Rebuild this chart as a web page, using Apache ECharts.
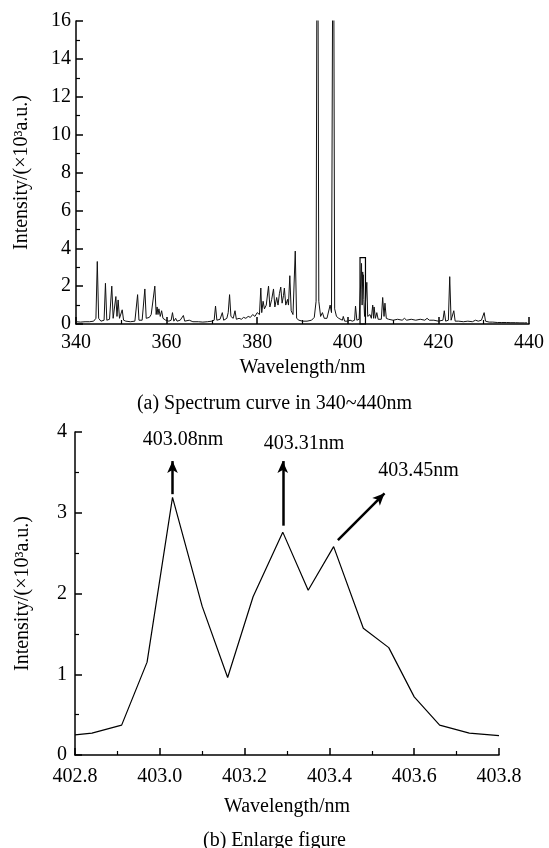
<!DOCTYPE html>
<html>
<head>
<meta charset="utf-8">
<script src="https://cdn.jsdelivr.net/npm/echarts@6/dist/echarts.min.js"></script>
<style>
  html, body { margin: 0; padding: 0; background: #fff; }
  #chart { width: 549px; height: 848px; }
</style>
</head>
<body>
<div id="chart"></div>
<script>
// (a) 全谱 340~440nm，[波长, 强度]
const spectrumPoints = [
  [340.0, 0.12], [341.0, 0.10], [342.0, 0.12], [343.0, 0.12], [343.9, 0.15],
  [344.4, 0.30], [344.7, 3.30], [345.0, 0.30], [345.5, 0.15], [346.2, 0.20],
  [346.5, 2.15], [346.8, 0.20], [347.4, 0.25], [347.9, 2.00], [348.2, 0.30],
  [348.5, 0.40], [348.8, 1.45], [349.05, 0.40], [349.3, 1.27], [349.6, 0.30],
  [349.9, 0.35], [350.2, 0.75], [350.5, 0.20], [351.0, 0.15], [352.0, 0.12],
  [353.0, 0.15], [353.3, 0.20], [353.6, 1.55], [353.9, 0.20], [354.6, 0.20],
  [354.9, 0.30], [355.2, 1.85], [355.5, 0.30], [356.2, 0.35], [356.6, 0.50],
  [357.0, 0.50], [357.4, 2.00], [357.7, 0.50], [357.9, 0.90], [358.1, 0.50],
  [358.3, 0.80], [358.6, 0.40], [358.9, 0.70], [359.2, 0.30], [359.8, 0.20],
  [360.5, 0.15], [361.0, 0.20], [361.3, 0.60], [361.6, 0.15], [362.0, 0.30],
  [362.3, 0.15], [363.0, 0.20], [363.7, 0.45], [364.0, 0.15], [365.0, 0.20],
  [365.4, 0.30], [365.8, 0.12], [367.0, 0.12], [368.0, 0.10], [369.0, 0.12],
  [370.0, 0.15], [370.5, 0.20], [370.8, 0.95], [371.1, 0.20], [371.8, 0.25],
  [372.3, 0.60], [372.6, 0.20], [373.3, 0.30], [373.6, 0.60], [373.9, 1.55],
  [374.2, 0.40], [374.7, 0.30], [375.1, 0.70], [375.4, 0.25], [376.0, 0.30],
  [376.5, 0.25], [377.0, 0.35], [377.5, 0.30], [378.0, 0.40], [378.5, 0.35],
  [379.0, 0.50], [379.5, 0.40], [380.0, 0.60], [380.5, 0.50], [380.8, 1.90],
  [381.0, 0.60], [381.3, 1.20], [381.6, 0.80], [382.0, 1.00], [382.5, 2.00],
  [382.8, 0.90], [383.2, 1.30], [383.6, 1.85], [383.9, 0.90], [384.3, 1.40],
  [384.6, 1.00], [384.9, 1.60], [385.2, 1.95], [385.5, 1.10], [385.8, 1.50],
  [386.0, 1.90], [386.3, 1.00], [386.7, 1.30], [386.9, 1.00], [387.2, 2.55],
  [387.5, 0.70], [387.9, 0.50], [388.4, 3.85], [388.7, 0.30], [389.2, 0.20],
  [390.0, 0.15], [391.0, 0.15], [392.0, 0.20], [392.6, 0.35], [393.0, 1.20],
  [393.3, 30.0], [393.6, 1.20], [394.0, 0.40], [394.4, 0.60], [394.8, 0.30],
  [395.4, 0.30], [396.1, 1.00], [396.4, 0.60], [396.8, 28.0], [397.1, 0.80],
  [397.5, 0.40], [398.0, 0.30], [398.8, 0.20], [399.0, 0.40], [399.3, 0.15],
  [400.0, 0.15], [400.5, 0.20], [401.0, 0.15], [401.5, 0.20], [401.7, 0.95],
  [402.0, 0.20], [402.5, 0.25], [402.8, 0.30], [403.03, 3.20], [403.1, 1.80],
  [403.16, 1.00], [403.29, 2.75], [403.35, 2.00], [403.41, 2.60], [403.54, 1.30],
  [403.7, 0.40], [404.0, 0.40], [404.2, 2.20], [404.4, 0.40], [404.9, 0.50],
  [405.2, 0.30], [405.5, 1.00], [405.7, 0.30], [405.8, 0.90], [406.1, 0.30],
  [406.4, 0.60], [406.7, 0.25], [407.0, 0.30], [407.4, 0.25], [407.7, 1.40],
  [408.0, 0.40], [408.2, 1.10], [408.5, 0.30], [409.0, 0.25], [410.0, 0.20],
  [411.0, 0.25], [412.0, 0.20], [412.5, 0.30], [413.0, 0.20], [414.0, 0.25],
  [415.0, 0.20], [416.0, 0.25], [417.0, 0.20], [417.5, 0.30], [418.0, 0.20],
  [419.0, 0.20], [420.0, 0.15], [421.0, 0.20], [421.3, 0.70], [421.6, 0.15],
  [422.2, 0.20], [422.5, 2.50], [422.8, 0.20], [423.1, 0.20], [423.4, 0.70],
  [423.7, 0.15], [424.5, 0.15], [425.5, 0.12], [426.5, 0.15], [427.5, 0.12],
  [428.2, 0.20], [428.8, 0.15], [429.5, 0.20], [429.8, 0.25], [430.1, 0.60],
  [430.4, 0.15], [430.8, 0.25], [431.2, 0.10], [432.0, 0.10], [433.0, 0.08],
  [434.0, 0.08], [435.0, 0.08], [436.0, 0.07], [437.0, 0.07], [438.0, 0.06],
  [439.0, 0.06], [439.6, 0.06]
]
// 放大框范围
const boxRange = [[402.7, 0], [403.9, 3.5]]

// (b) 放大图
const zoomWavelength = [402.80, 402.84, 402.91, 402.97, 403.03, 403.10, 403.16, 403.22, 403.29,
  403.35, 403.41, 403.48, 403.54, 403.60, 403.66, 403.73, 403.80]
const zoomIntensity = [0.25, 0.27, 0.37, 1.15, 3.19, 1.84, 0.96, 1.96, 2.76,
  2.04, 2.58, 1.57, 1.33, 0.72, 0.37, 0.27, 0.24]
// 箭头：起点、终点
const arrowLines = [
  [[403.03, 3.23], [403.03, 3.64]],
  [[403.29, 2.84], [403.29, 3.64]],
  [[403.42, 2.66], [403.53, 3.24]]
]
const peakLabels = [
  { text: '403.08nm', coord: [403.055, 3.9] },
  { text: '403.31nm', coord: [403.34, 3.86] },
  { text: '403.45nm', coord: [403.61, 3.52] }
]

const font = 'Liberation Serif'
const black = '#000'
const fs = 20

function axisCommon(labelMargin) {
  return {
    axisLine: { show: true, onZero: false, lineStyle: { color: black, width: 1.5 } },
    axisTick: { show: true, inside: true, length: 7, lineStyle: { color: black, width: 1.5 } },
    minorTick: { show: true, splitNumber: 2, length: 4, lineStyle: { color: black, width: 1.2 } },
    splitLine: { show: false },
    axisLabel: { color: black, fontFamily: font, fontSize: fs, margin: labelMargin },
    nameTextStyle: { color: black, fontFamily: font, fontSize: fs }
  }
}

const chart = echarts.init(document.getElementById('chart'))
const option = {
  backgroundColor: '#fff',
  animation: false,
  title: [
    { text: '(a) Spectrum curve in 340~440nm', left: 'center', top: 389,
      textStyle: { color: black, fontFamily: font, fontSize: fs, fontWeight: 'normal' } },
    { text: '(b) Enlarge figure', left: 'center', top: 826,
      textStyle: { color: black, fontFamily: font, fontSize: fs, fontWeight: 'normal' } }
  ],
  grid: [
    { left: 76, top: 21, width: 453, height: 303 },
    { left: 75, top: 432, width: 424, height: 323 }
  ],
  xAxis: [
    Object.assign(axisCommon(9), {
      type: 'value', gridIndex: 0, min: 340, max: 440, interval: 20,
      name: 'Wavelength/nm', nameLocation: 'middle', nameGap: 34
    }),
    Object.assign(axisCommon(12), {
      type: 'value', gridIndex: 1, min: 402.8, max: 403.8, interval: 0.2,
      name: 'Wavelength/nm', nameLocation: 'middle', nameGap: 42
    })
  ],
  yAxis: [
    Object.assign(axisCommon(5), {
      type: 'value', gridIndex: 0, min: 0, max: 16, interval: 2,
      name: 'Intensity/(×10³a.u.)', nameLocation: 'middle', nameGap: 44
    }),
    Object.assign(axisCommon(8), {
      type: 'value', gridIndex: 1, min: 0, max: 4, interval: 1,
      name: 'Intensity/(×10³a.u.)', nameLocation: 'middle', nameGap: 42
    })
  ],
  series: [
    {
      type: 'line', xAxisIndex: 0, yAxisIndex: 0,
      data: spectrumPoints, showSymbol: false, clip: true,
      lineStyle: { color: '#111', width: 1 },
      markArea: {
        silent: true,
        itemStyle: { color: 'rgba(0,0,0,0)', borderColor: black, borderWidth: 1.2 },
        data: [[{ coord: boxRange[0] }, { coord: boxRange[1] }]]
      }
    },
    {
      type: 'line', xAxisIndex: 1, yAxisIndex: 1,
      data: zoomWavelength.map((x, i) => [x, zoomIntensity[i]]),
      showSymbol: false,
      lineStyle: { color: black, width: 1.2 },
      markLine: {
        silent: true, animation: false,
        symbol: ['none', 'arrow'], symbolSize: [8, 12],
        lineStyle: { color: black, width: 2.5, type: 'solid' },
        label: { show: false },
        data: arrowLines.map(a => [{ coord: a[0] }, { coord: a[1] }])
      },
      markPoint: {
        silent: true, symbol: 'circle', symbolSize: 0,
        label: { show: true, color: black, fontFamily: font, fontSize: fs,
          formatter: p => p.name },
        data: peakLabels.map(l => ({ name: l.text, coord: l.coord }))
      }
    }
  ]
}
// 放大图横轴保留一位小数
option.xAxis[1].axisLabel.formatter = v => v.toFixed(1)
chart.setOption(option)
</script>
</body>
</html>
